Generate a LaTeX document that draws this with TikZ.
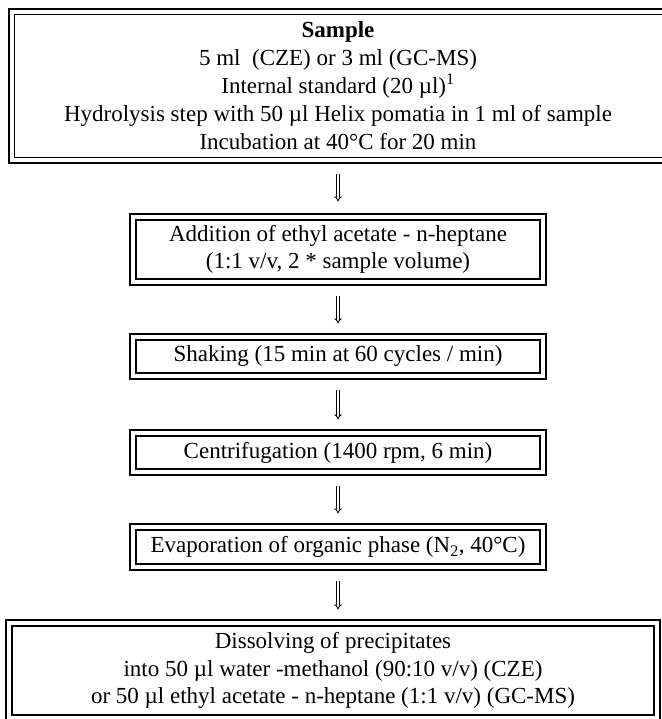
\documentclass[tikz,border=0pt]{standalone}
\usepackage{fontspec}
\setmainfont{Liberation Serif}
\usetikzlibrary{arrows.meta,positioning,calc}

\begin{document}
\begin{tikzpicture}[
    x=1pt,y=1pt,
    stepbox/.style={draw,line width=1.1pt,minimum width=404,
                    align=center,inner sep=2pt,
                    font=\fontsize{23}{27.5}\selectfont},
    frame/.style={line width=2.2pt},
    flow/.style={double,double distance=1.8pt,line width=0.8pt,
                 -{Implies},shorten <=16pt,shorten >=16pt}
  ]
  \def\gap{5.5}
  \useasboundingbox (0,0) rectangle (661,719);
  %% Sample box (runs past the right edge)
  \node[stepbox,draw=none,minimum width=646,minimum height=142,
        font=\fontsize{23}{28}\selectfont] (smp) at (338,633)
    {\textbf{Sample}\\
     5 ml~ (CZE) or 3 ml (GC-MS)\\
     Internal standard (20 µl)\textsuperscript{1}\\
     Hydrolysis step with 50 µl Helix pomatia in 1 ml of sample\\
     Incubation at 40°C for 20 min};
  \draw[line width=1.1pt] (smp.north west) rectangle ($(smp.south east)+(30,0)$);
  \draw[frame] ($(smp.north west)+(-\gap,\gap)$) rectangle ($(smp.south east)+(40,-\gap)$);
  %% Extraction steps
  \node[stepbox,minimum height=59] (add) at (338,469.5)
    {Addition of ethyl acetate - n-heptane\\
     (1:1 v/v, 2 * sample volume)};
  \node[stepbox,minimum height=33] (shk) at (338,362.5)
    {Shaking (15 min at 60 cycles / min)};
  \node[stepbox,minimum height=33] (cen) at (338,266.5)
    {Centrifugation (1400 rpm, 6 min)};
  \node[stepbox,minimum height=34] (eva) at (338,172)
    {Evaporation of organic phase (N\textsubscript{2}, 40°C)};
  %% Final step
  \node[stepbox,minimum width=642,minimum height=89] (dis) at (333,48.5)
    {Dissolving of precipitates\\
     into 50 µl water -methanol (90:10 v/v) (CZE)\\
     or 50 µl ethyl acetate - n-heptane (1:1 v/v) (GC-MS)};
  %% Outer frames
  \foreach \n in {add,shk,cen,eva,dis}
    \draw[frame] ($(\n.south west)+(-\gap,-\gap)$) rectangle ($(\n.north east)+(\gap,\gap)$);
  %% Arrows
  \draw[flow,shorten >=18pt] (smp) -- (add);
  \draw[flow] (add) -- (shk);
  \draw[flow] (shk) -- (cen);
  \draw[flow] (cen) -- (eva);
  \draw[flow] (eva) -- (eva |- dis.north);
\end{tikzpicture}
\end{document}
